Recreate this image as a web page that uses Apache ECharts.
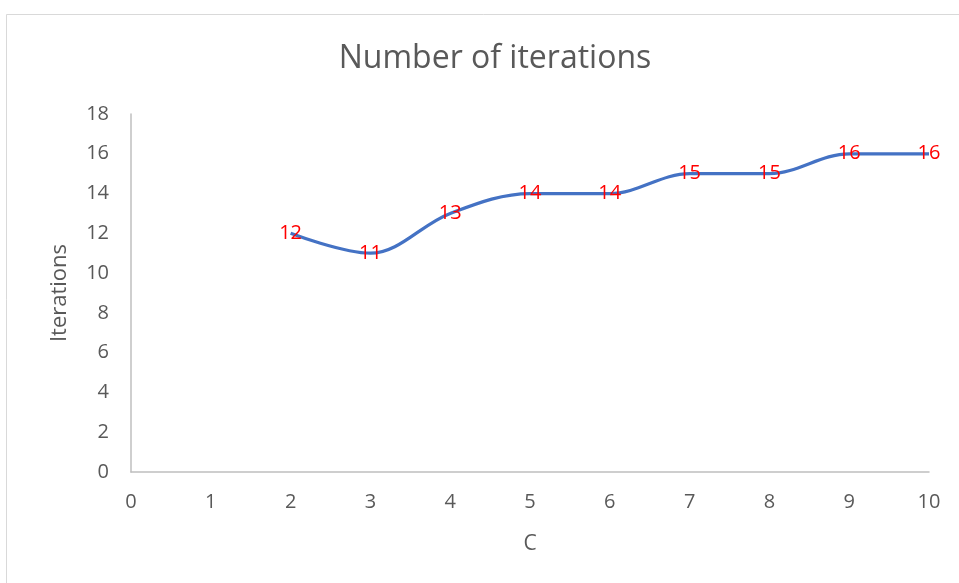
<!DOCTYPE html>
<html><head><meta charset="utf-8">
<script src="https://cdn.jsdelivr.net/npm/echarts@6/dist/echarts.min.js"></script>
<style>html,body{margin:0;padding:0;background:#fff}#c{width:959px;height:583px}</style>
</head><body><div id="c"></div>
<script>
const cValues = [2, 3, 4, 5, 6, 7, 8, 9, 10];
const iterations = [12, 11, 13, 14, 14, 15, 15, 16, 16];
const chartTitle = 'Number of iterations';
const xName = 'C';
const yName = 'Iterations';

const FONT = '"Open Sans", "Noto Sans", sans-serif';
const chart = echarts.init(document.getElementById('c'));
chart.setOption({
  animation: false,
  backgroundColor: '#fff',
  graphic: [{
    type: 'rect', shape: {x: 6.5, y: 14.5, width: 1000, height: 1000},
    style: {fill: 'none', stroke: '#d9d9d9', lineWidth: 1}, silent: true
  }],
  title: {
    text: chartTitle, left: 490, top: 38, textAlign: 'center',
    textStyle: {fontFamily: FONT, fontSize: 32, fontWeight: 'normal', color: '#595959'}
  },
  grid: {left: 131, right: 30, top: 114, bottom: 111},
  xAxis: {
    type: 'value', min: 0, max: 10, interval: 1,
    name: xName, nameLocation: 'middle', nameGap: 62,
    nameTextStyle: {fontFamily: FONT, fontSize: 21, color: '#595959'},
    axisLine: {lineStyle: {color: '#bfbfbf', width: 1.5}},
    axisTick: {show: false}, splitLine: {show: false},
    axisLabel: {fontFamily: FONT, fontSize: 20, color: '#595959', margin: 20}
  },
  yAxis: {
    type: 'value', min: 0, max: 18, interval: 2,
    name: yName, nameLocation: 'middle', nameGap: 60,
    nameTextStyle: {fontFamily: FONT, fontSize: 22, color: '#595959'},
    axisLine: {show: true, lineStyle: {color: '#bfbfbf', width: 1.5}},
    axisTick: {show: false}, splitLine: {show: false},
    axisLabel: {fontFamily: FONT, fontSize: 20, color: '#595959', margin: 22}
  },
  series: [{
    type: 'line',
    data: cValues.map((c, i) => [c, iterations[i]]),
    smooth: 0.35,
    symbol: 'circle', symbolSize: 1,
    itemStyle: {color: 'rgba(0,0,0,0)'},
    lineStyle: {color: '#4472C4', width: 3.2},
    label: {
      show: true, position: 'inside', formatter: p => p.value[1],
      fontFamily: FONT, fontSize: 20, color: '#ff0000'
    }
  }]
});
</script></body></html>
